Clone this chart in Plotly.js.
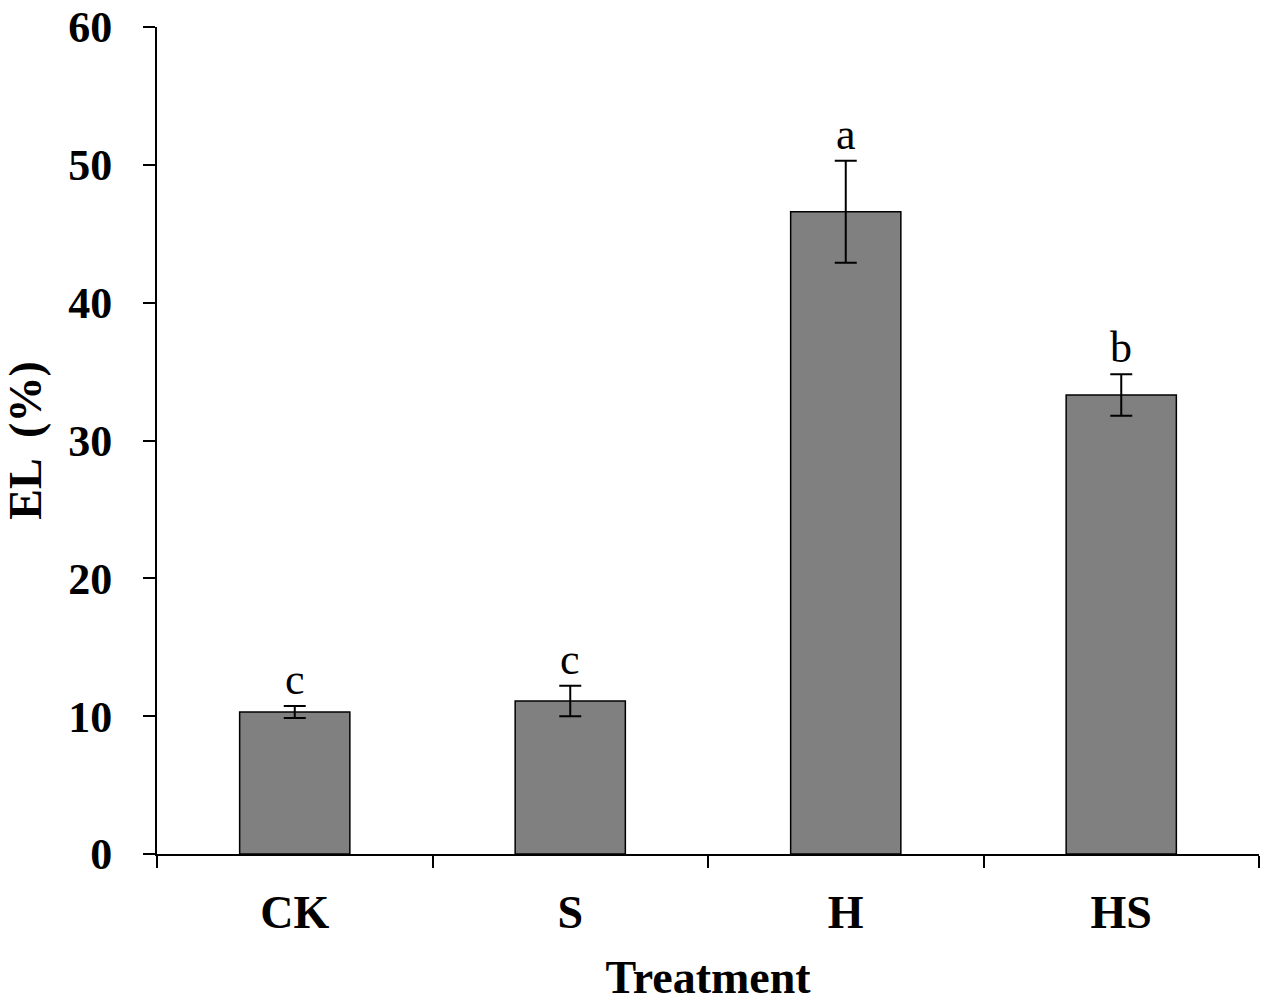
<!DOCTYPE html>
<html>
<head>
<meta charset="utf-8">
<script src="https://cdn.plot.ly/plotly-3.0.1.min.js"></script>
<style>
  body { margin: 0; background: #fff; }
  #chart { width: 1267px; height: 1003px; }
</style>
</head>
<body>
<div id="chart"></div>
<script>
// values
const treatments = ["CK", "S", "H", "HS"];
const elMean = [10.3, 11.1, 46.6, 33.3];
const elErr = [0.43, 1.1, 3.7, 1.5];
const sigLetters = ["c", "c", "a", "b"];

const serif = "Liberation Serif, Times New Roman, serif";

let barTrace = {
	x: treatments,
	y: elMean,
	type: 'bar',
	marker: {
		color: '#808080',
		line: { color: '#000', width: 1.5 }
	},
	error_y: {
		type: 'data',
		array: elErr,
		visible: true,
		color: '#000',
		thickness: 2,
		width: 11
	},
	hoverinfo: 'none'
};

let letterNotes = treatments.map((t, i) => ({
	x: t,
	y: elMean[i] + elErr[i],
	text: sigLetters[i],
	showarrow: false,
	yanchor: 'bottom',
	yshift: 0,
	font: { family: serif, size: 44, color: '#000' }
}));

let layout = {
	width: 1267,
	height: 1003,
	margin: { l: 157, r: 8, t: 27, b: 149 },
	paper_bgcolor: '#fff',
	plot_bgcolor: '#fff',
	showlegend: false,
	bargap: 0.6,
	font: { family: serif, color: '#000' },
	xaxis: {
		showline: true,
		linecolor: '#000',
		linewidth: 2,
		ticks: 'outside',
		tickson: 'boundaries',
		ticklen: 12,
		tickwidth: 2,
		tickcolor: '#000',
		ticklabelstandoff: 17,
		tickfont: { family: serif, size: 46, weight: 'bold' },
		title: { text: '<b>Treatment</b>', font: { family: serif, size: 46 }, standoff: 26 },
		automargin: false
	},
	yaxis: {
		range: [0, 60],
		dtick: 10,
		showline: true,
		linecolor: '#000',
		linewidth: 2,
		showgrid: false,
		zeroline: false,
		ticks: 'outside',
		ticklen: 12,
		tickwidth: 2,
		tickcolor: '#000',
		ticklabelstandoff: 22,
		ticklabeloverflow: 'allow',
		tickfont: { family: serif, size: 44, weight: 'bold' },
		title: { text: '<b>EL  (%)</b>', font: { family: serif, size: 46 }, standoff: 18 },
		automargin: false
	},
	annotations: letterNotes
};

Plotly.newPlot('chart', [barTrace], layout, { staticPlot: true });
</script>
</body>
</html>
